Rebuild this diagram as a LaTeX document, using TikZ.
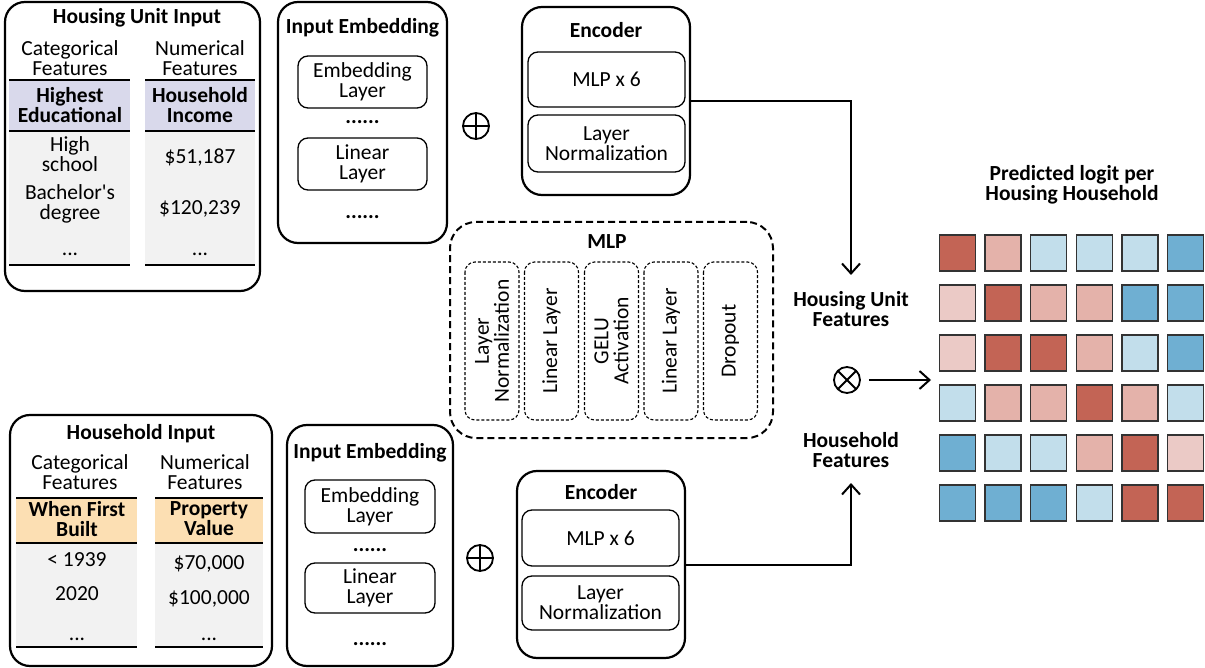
\documentclass[tikz,border=0pt]{standalone}
\usepackage{fontspec}
\setmainfont{Carlito}
\newfontfamily\rawf{Carlito}[Ligatures=TeXOff]
\usetikzlibrary{arrows.meta}
\definecolor{dr}{HTML}{C36455}
\definecolor{lr}{HTML}{E4B2AA}
\definecolor{pk}{HTML}{EBCAC6}
\definecolor{lb}{HTML}{C2DEEB}
\definecolor{bl}{HTML}{6FAFD2}
\definecolor{hdrA}{HTML}{D9D9EB}
\definecolor{hdrB}{HTML}{FCDFB3}
\definecolor{body}{HTML}{F2F2F2}
\newcommand{\fs}{\fontsize{21.5}{20}\selectfont}
\tikzset{
 outer/.style={draw, line width=2.2pt, rounded corners=20pt, inner sep=0pt},
 inbox/.style={draw, line width=1.3pt, rounded corners=10pt, inner sep=0pt, align=center},
 lbl/.style={inner sep=0pt, align=center},
 bold/.style={lbl, font=\fs\bfseries},
 dotsn/.style={inner sep=0pt, anchor=base, font=\fs\bfseries},
 tdots/.style={inner sep=0pt, anchor=base},
 mlpout/.style={draw, line width=2pt, dash pattern=on 7pt off 4pt, rounded corners=26pt, inner sep=0pt},
 mlpin/.style={draw, line width=1.1pt, dash pattern=on 3pt off 2pt, rounded corners=10pt, inner sep=0pt, align=center, rotate=90, minimum width=158pt, minimum height=54pt},
 conn/.style={line width=2pt, -{Straight Barb[length=10pt,width=18pt]}},
 cell/.style={draw=black!80, line width=1.3pt, minimum width=36pt, minimum height=36pt, inner sep=0pt},
 opnode/.style={circle, draw, line width=1.8pt, minimum size=26pt, inner sep=0pt},
 sep/.style={line width=1.6pt}
}
\begin{document}
\begin{tikzpicture}[x=1pt,y=-1pt, font=\fs]
\useasboundingbox (0,0) rectangle (1205,668);

% ---------- Housing Unit Input ----------
\node[outer, minimum width=255pt, minimum height=289pt] (hui) at (132.5,146.5) {};
\node[bold] (huiT) at (137,18) {Housing Unit Input};
\node[lbl] (huiC) at (70,58) {Categorical\\Features};
\node[lbl] (huiN) at (200,58) {Numerical\\Features};
\fill[hdrA] (9,80) rectangle (130,131);
\fill[hdrA] (145,80) rectangle (255,131);
\fill[body] (9,131) rectangle (130,265);
\fill[body] (145,131) rectangle (255,265);
\draw[sep] (9,80) -- (130,80) (9,131) -- (130,131) (9,265) -- (130,265);
\draw[sep] (145,80) -- (255,80) (145,131) -- (255,131) (145,265) -- (255,265);
\node[bold] (huiH1) at (70,105) {Highest\\Educational};
\node[bold] (huiH2) at (200,105) {Household\\Income};
\node[lbl] (huiA1) at (70,154) {High\\school};
\node[lbl] (huiA2) at (70,204) {Bachelor{\rawf'}s\\degree};
\node[tdots] (huiA3) at (70,256) {...};
\node[lbl] (huiB1) at (200,158) {\$51,187};
\node[lbl] (huiB2) at (200,209) {\$120,239};
\node[tdots] (huiB3) at (200,256) {...};

% ---------- Input Embedding (top) ----------
\node[outer, minimum width=169pt, minimum height=241pt] (ie1) at (362.5,122.5) {};
\node[bold] (ie1T) at (362.5,28) {Input Embedding};
\node[inbox, minimum width=129pt, minimum height=52pt] (emb1) at (362.5,82) {Embedding\\Layer};
\node[dotsn] (d11) at (362.5,124) {......};
\node[inbox, minimum width=129pt, minimum height=52pt] (lin1) at (362.5,164) {Linear\\Layer};
\node[dotsn] (d12) at (362.5,219) {......};

\node[opnode, path picture={\draw[line width=1.8pt] (path picture bounding box.north) -- (path picture bounding box.south) (path picture bounding box.west) -- (path picture bounding box.east);}] (plus1) at (476,126) {};

% ---------- Encoder (top) ----------
\node[outer, minimum width=168pt, minimum height=188pt] (enc1) at (606,101) {};
\node[bold] (enc1T) at (606,30) {Encoder};
\node[inbox, minimum width=157pt, minimum height=55pt] (mlp1) at (606.5,79.5) {MLP x 6};
\node[inbox, minimum width=157pt, minimum height=57pt] (ln1) at (606.5,143.5) {Layer\\Normalization};

% ---------- MLP ----------
\node[mlpout, minimum width=323pt, minimum height=216pt] (mlp) at (611.5,330) {};
\node[bold] (mlpT) at (607,242) {MLP};
\node[mlpin] (m1) at (492,341) {Layer\\Normalization};
\node[mlpin] (m2) at (551.5,341) {Linear Layer};
\node[mlpin] (m3) at (611.5,341) {GELU\\Activation};
\node[mlpin] (m4) at (671,341) {Linear Layer};
\node[mlpin] (m5) at (730.5,341) {Dropout};

% ---------- Household Input ----------
\node[outer, minimum width=262pt, minimum height=251pt] (hhi) at (141,540.5) {};
\node[bold] (hhiT) at (141,434) {Household Input};
\node[lbl] (hhiC) at (80,472) {Categorical\\Features};
\node[lbl] (hhiN) at (205,472) {Numerical\\Features};
\fill[hdrB] (16,498) rectangle (137,543);
\fill[hdrB] (155,498) rectangle (263,543);
\fill[body] (16,543) rectangle (137,647);
\fill[body] (155,543) rectangle (263,647);
\draw[sep] (16,498) -- (137,498) (16,543) -- (137,543) (16,647) -- (137,647);
\draw[sep] (155,498) -- (263,498) (155,543) -- (263,543) (155,647) -- (263,647);
\node[bold] (hhiH1) at (77,519) {When First\\Built};
\node[bold] (hhiH2) at (209,519) {Property\\Value};
\node[lbl] (hhiA1) at (77,560) {< 1939};
\node[lbl] (hhiA2) at (77,594) {2020};
\node[tdots] (hhiA3) at (77,640) {...};
\node[lbl] (hhiB1) at (209,564) {\$70,000};
\node[lbl] (hhiB2) at (209,599) {\$100,000};
\node[tdots] (hhiB3) at (209,640) {...};

% ---------- Input Embedding (bottom) ----------
\node[outer, minimum width=166pt, minimum height=241pt] (ie2) at (370,545.5) {};
\node[bold] (ie2T) at (370,453) {Input Embedding};
\node[inbox, minimum width=130pt, minimum height=53pt] (emb2) at (370,506.5) {Embedding\\Layer};
\node[dotsn] (d21) at (370,551) {......};
\node[inbox, minimum width=130pt, minimum height=50pt] (lin2) at (370,588) {Linear\\Layer};
\node[dotsn] (d22) at (370,645) {......};

\node[opnode, path picture={\draw[line width=1.8pt] (path picture bounding box.north) -- (path picture bounding box.south) (path picture bounding box.west) -- (path picture bounding box.east);}] (plus2) at (480,558) {};

% ---------- Encoder (bottom) ----------
\node[outer, minimum width=168pt, minimum height=187pt] (enc2) at (601,564.5) {};
\node[bold] (enc2T) at (601,492) {Encoder};
\node[inbox, minimum width=157pt, minimum height=56pt] (mlp2) at (600.5,538) {MLP x 6};
\node[inbox, minimum width=157pt, minimum height=54pt] (ln2) at (600.5,603) {Layer\\Normalization};

% ---------- Features & product ----------
\node[bold] (huf) at (851,309) {Housing Unit\\Features};
\node[bold] (hhf) at (851,450) {Household\\Features};
\coordinate (t1) at (851,275);
\coordinate (t2) at (851,483);
\draw[conn] (enc1.east) -| (t1);
\draw[conn] (enc2.east) -| (t2);

\node[opnode, path picture={\draw[line width=1.8pt] (path picture bounding box.north west) -- (path picture bounding box.south east) (path picture bounding box.south west) -- (path picture bounding box.north east);}] (ot) at (847,380) {};
\coordinate (gin) at (931,380);
\draw[conn, shorten <=8pt] (ot.east) -- (gin);

% ---------- Grid ----------
\node[bold] (gridT) at (1072,184.5) {Predicted logit per\\Housing Household};
\foreach \row [count=\r] in {{dr,lr,lb,lb,lb,bl},{pk,dr,lr,lr,bl,bl},{pk,dr,dr,lr,lb,bl},{lb,lr,lr,dr,lr,lb},{bl,lb,lb,lr,dr,pk},{bl,bl,bl,lb,dr,dr}}{
  \foreach \col [count=\c] in \row {
    \node[cell, fill=\col] (c\r\c) at ({957.3+(\c-1)*45.7},{253+(\r-1)*50}) {};
  }
}
\end{tikzpicture}
\end{document}
